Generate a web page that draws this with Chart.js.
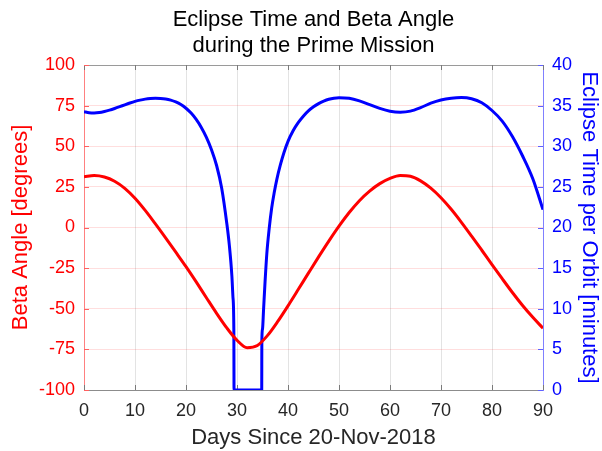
<!DOCTYPE html>
<html>
<head>
<meta charset="utf-8">
<title>Eclipse Time and Beta Angle</title>
<script src="https://cdn.jsdelivr.net/npm/chart.js@4/dist/chart.umd.min.js"></script>
<style>
  html, body { margin: 0; padding: 0; background: #fff; }
  #wrap { width: 602px; height: 451px; }
</style>
</head>
<body>
<div id="wrap"><canvas id="c" width="602" height="451"></canvas></div>
<script>
// Beta angle (degrees) sampled every two days
const betaDays = [0, 2, 4, 6, 8, 10, 12, 14, 16, 18, 20, 22, 24, 26, 28, 30, 32, 34, 36, 38,
  40, 42, 44, 46, 48, 50, 52, 54, 56, 58, 60, 62, 64, 66, 68, 70, 72, 74, 76, 78, 80, 82, 84, 86, 88, 90];
const betaAngle = [31.2, 32, 31.1, 28.5, 24.1, 18.0, 10.5, 2.2, -6.4, -15.2, -24.1, -33.5, -43.2, -52.8, -61.8,
  -69.4, -74.0, -72.6, -66.4, -57.8, -48.2, -38.2, -28.1, -18.1, -8.4, 0.8, 9.2, 16.5, 22.4, 27.0, 30.2, 32,
  31.5, 28.7, 24.2, 18.3, 11.2, 3.2, -5.3, -14.0, -22.8, -31.5, -40.0, -48.0, -55.3, -62];

// Eclipse duration per orbit (minutes); denser samples around the full-sun gap
const eclipseDays = [0, 1, 2, 3, 4, 5, 6, 7, 8, 9, 10, 11, 12, 13, 14, 15, 16, 17, 18, 19, 20, 21, 22, 23,
  24, 25, 26, 27, 28, 28.5, 29, 29.2, 29.38, 29.42,
  34.85, 34.87, 35.0, 35.2, 35.5, 35.85, 36.3, 36.8, 37.3, 37.8, 38.5, 39.2, 40, 41, 42, 43, 44, 45, 46, 47,
  48, 49, 50, 52, 54, 56, 58, 60, 62, 64, 66, 68, 70, 72, 74, 76, 78, 80, 82, 84, 86, 88, 90];
const eclipseMinutes = [34.25, 34.13, 34.1, 34.15, 34.28, 34.45, 34.65, 34.87, 35.1, 35.32, 35.52, 35.68, 35.8,
  35.87, 35.9, 35.88, 35.81, 35.67, 35.45, 35.13, 34.68, 34.08, 33.3, 32.32, 31.1, 29.58, 27.63, 24.83, 20.5,
  17.8, 14.0, 11.5, 7.5, 0,
  0, 6, 7.5, 9.8, 13.3, 16.8, 19.8, 22.4, 24.3, 25.9, 27.7, 29.2, 30.6, 31.9, 32.9, 33.7, 34.35, 34.85, 35.25,
  35.55, 35.78, 35.92, 35.98, 35.9, 35.58, 35.12, 34.66, 34.32, 34.2, 34.32, 34.75, 35.3, 35.7, 35.92, 36,
  35.85, 35.35, 34.4, 33.1, 31.2, 28.8, 26.0, 22.2];

// Axis ticks
const dayTicks = [0, 10, 20, 30, 40, 50, 60, 70, 80, 90];
const betaTicks = [-100, -75, -50, -25, 0, 25, 50, 75, 100];
const eclipseTicks = [0, 5, 10, 15, 20, 25, 30, 35, 40];

const FONT = "'Liberation Sans', Arial, Helvetica, sans-serif";
const RED = '#ff0000';
const BLUE = '#0000ff';

const toPoints = (xs, ys) => xs.map((x, i) => ({ x, y: ys[i] }));

// Axis box with inward-pointing tick marks
const axisBox = {
  id: 'axisBox',
  beforeDatasetsDraw(chart) {
    const { ctx, chartArea: a, scales } = chart;
    const len = 5;
    ctx.save();
    ctx.lineWidth = 1;
    ctx.strokeStyle = '#9a9a9a';
    ctx.beginPath();
    ctx.moveTo(a.left, a.top + 0.5);
    ctx.lineTo(a.right, a.top + 0.5);
    ctx.stroke();

    ctx.strokeStyle = '#7a7a7a';
    ctx.beginPath();
    dayTicks.forEach(v => {
      const px = Math.round(scales.x.getPixelForValue(v)) + 0.5;
      ctx.moveTo(px, a.bottom); ctx.lineTo(px, a.bottom - len);
      ctx.moveTo(px, a.top); ctx.lineTo(px, a.top + len);
    });
    ctx.stroke();

    ctx.strokeStyle = '#ff6060';
    ctx.beginPath();
    betaTicks.forEach(v => {
      const py = Math.round(scales.yBeta.getPixelForValue(v)) + 0.5;
      ctx.moveTo(a.left, py); ctx.lineTo(a.left + len, py);
    });
    ctx.stroke();

    ctx.strokeStyle = '#6060ff';
    ctx.beginPath();
    eclipseTicks.forEach(v => {
      const py = Math.round(scales.yEclipse.getPixelForValue(v)) + 0.5;
      ctx.moveTo(a.right, py); ctx.lineTo(a.right - len, py);
    });
    ctx.stroke();
    ctx.restore();
  }
};

new Chart(document.getElementById('c'), {
  type: 'line',
  data: {
    datasets: [
      {
        label: 'Beta Angle',
        data: toPoints(betaDays, betaAngle),
        yAxisID: 'yBeta',
        borderColor: RED,
        borderWidth: 3,
        pointRadius: 0,
        cubicInterpolationMode: 'monotone',
        fill: false
      },
      {
        label: 'Eclipse Time',
        data: toPoints(eclipseDays, eclipseMinutes),
        yAxisID: 'yEclipse',
        borderColor: BLUE,
        borderWidth: 3,
        pointRadius: 0,
        cubicInterpolationMode: 'monotone',
        fill: false
      }
    ]
  },
  options: {
    responsive: false,
    devicePixelRatio: 1,
    animation: false,
    layout: { padding: 0 },
    plugins: {
      legend: { display: false },
      tooltip: { enabled: false },
      title: {
        display: true,
        fullSize: false,
        text: ['Eclipse Time and Beta Angle', 'during the Prime Mission'],
        color: '#000',
        font: { family: FONT, size: 22, weight: 'normal', lineHeight: 1.2 },
        padding: { top: 6.5, bottom: 5.7 }
      }
    },
    scales: {
      x: {
        type: 'linear',
        min: 0,
        max: 90,
        afterBuildTicks: s => { s.ticks = dayTicks.map(v => ({ value: v })); },
        afterFit: s => { s.height = 61; },
        grid: { color: 'rgba(38,38,38,0.13)', drawTicks: false },
        border: { color: '#8c8c8c', width: 1 },
        ticks: { color: '#262626', font: { family: FONT, size: 18 }, padding: 10, maxRotation: 0 },
        title: {
          display: true,
          text: 'Days Since 20-Nov-2018',
          color: '#262626',
          font: { family: FONT, size: 22, lineHeight: 1.2 },
          padding: { top: 0, bottom: 0 }
        }
      },
      yBeta: {
        type: 'linear',
        position: 'left',
        min: -100,
        max: 100,
        afterBuildTicks: s => { s.ticks = betaTicks.map(v => ({ value: v })); },
        afterFit: s => { s.width = 84; },
        grid: { color: 'rgba(255,0,0,0.13)', drawTicks: false },
        border: { color: '#ff8080', width: 1 },
        ticks: { color: RED, font: { family: FONT, size: 18 }, padding: 9 },
        title: {
          display: true,
          text: 'Beta Angle [degrees]',
          color: RED,
          font: { family: FONT, size: 22, lineHeight: 1.2 },
          padding: { top: 8, bottom: 0 }
        }
      },
      yEclipse: {
        type: 'linear',
        position: 'right',
        min: 0,
        max: 40,
        afterBuildTicks: s => { s.ticks = eclipseTicks.map(v => ({ value: v })); },
        afterFit: s => { s.width = 59; },
        grid: { display: false, drawTicks: false },
        border: { color: '#8080ff', width: 1 },
        ticks: { color: BLUE, font: { family: FONT, size: 18 }, padding: 9 },
        title: {
          display: true,
          text: 'Eclipse Time per Orbit [minutes]',
          color: BLUE,
          font: { family: FONT, size: 22, lineHeight: 1.2 },
          padding: { top: 0, bottom: 0 }
        }
      }
    }
  },
  plugins: [axisBox]
});
</script>
</body>
</html>
